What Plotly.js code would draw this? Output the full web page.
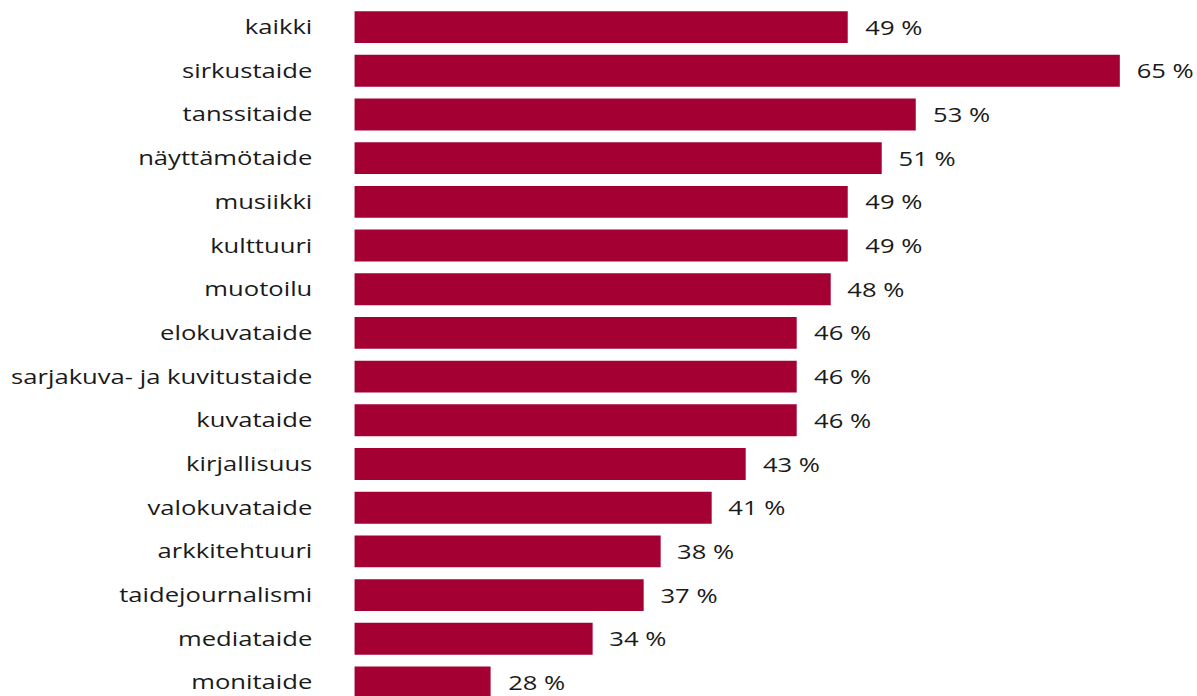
<!DOCTYPE html>
<html>
<head>
<meta charset="utf-8">
<script src="https://cdn.plot.ly/plotly-3.0.1.min.js"></script>
<style>
  html, body { margin: 0; padding: 0; background: #ffffff; overflow: hidden; }
  #wrap { width: 1197px; height: 696px; overflow: hidden; }
  #chart { width: 935px; height: 696px; transform-origin: 0 0; transform: scaleX(1.28); }
</style>
</head>
<body>
<div id="wrap"><div id="chart"></div></div>
<script>
const categories = [
  "kaikki", "sirkustaide", "tanssitaide", "näyttämötaide", "musiikki",
  "kulttuuri", "muotoilu", "elokuvataide", "sarjakuva- ja kuvitustaide",
  "kuvataide", "kirjallisuus", "valokuvataide", "arkkitehtuuri",
  "taidejournalismi", "mediataide", "monitaide"
];
const values = [49, 65, 53, 51, 49, 49, 48, 46, 46, 46, 43, 41, 38, 37, 34, 28];
const valueLabels = values.map(v => v + " %");

const FONT = "'Open Sans', 'Noto Sans', sans-serif";
const BAR_COLOR = "#a50034";
const TEXT_COLOR = "#1a1a1a";

const traces = [{
  type: "bar",
  orientation: "h",
  x: values,
  y: categories,
  marker: { color: BAR_COLOR, line: { width: 0 } },
  hoverinfo: "skip"
}];

const annotations = values.map((v, i) => ({
  x: v,
  y: categories[i],
  xref: "x",
  yref: "y",
  text: valueLabels[i],
  showarrow: false,
  xanchor: "left",
  yanchor: "middle",
  xshift: 11.3,
  font: { family: FONT, size: 20, color: TEXT_COLOR }
}));

const layout = {
  width: 935,
  height: 696,
  margin: { l: 277.3, r: 7.0, t: 0, b: 0, pad: 0 },
  paper_bgcolor: "#ffffff",
  plot_bgcolor: "#ffffff",
  showlegend: false,
  bargap: 0.27,
  xaxis: {
    range: [20, 69],
    visible: false,
    showgrid: false,
    zeroline: false,
    fixedrange: true
  },
  yaxis: {
    type: "category",
    categoryorder: "array",
    categoryarray: categories,
    range: [15.31, -0.62],
    showgrid: false,
    zeroline: false,
    showline: false,
    ticks: "",
    ticklabelstandoff: 32,
    tickfont: { family: FONT, size: 20, color: TEXT_COLOR },
    fixedrange: true
  },
  annotations: annotations
};

Plotly.newPlot("chart", traces, layout, { displayModeBar: false, staticPlot: true });
</script>
</body>
</html>
